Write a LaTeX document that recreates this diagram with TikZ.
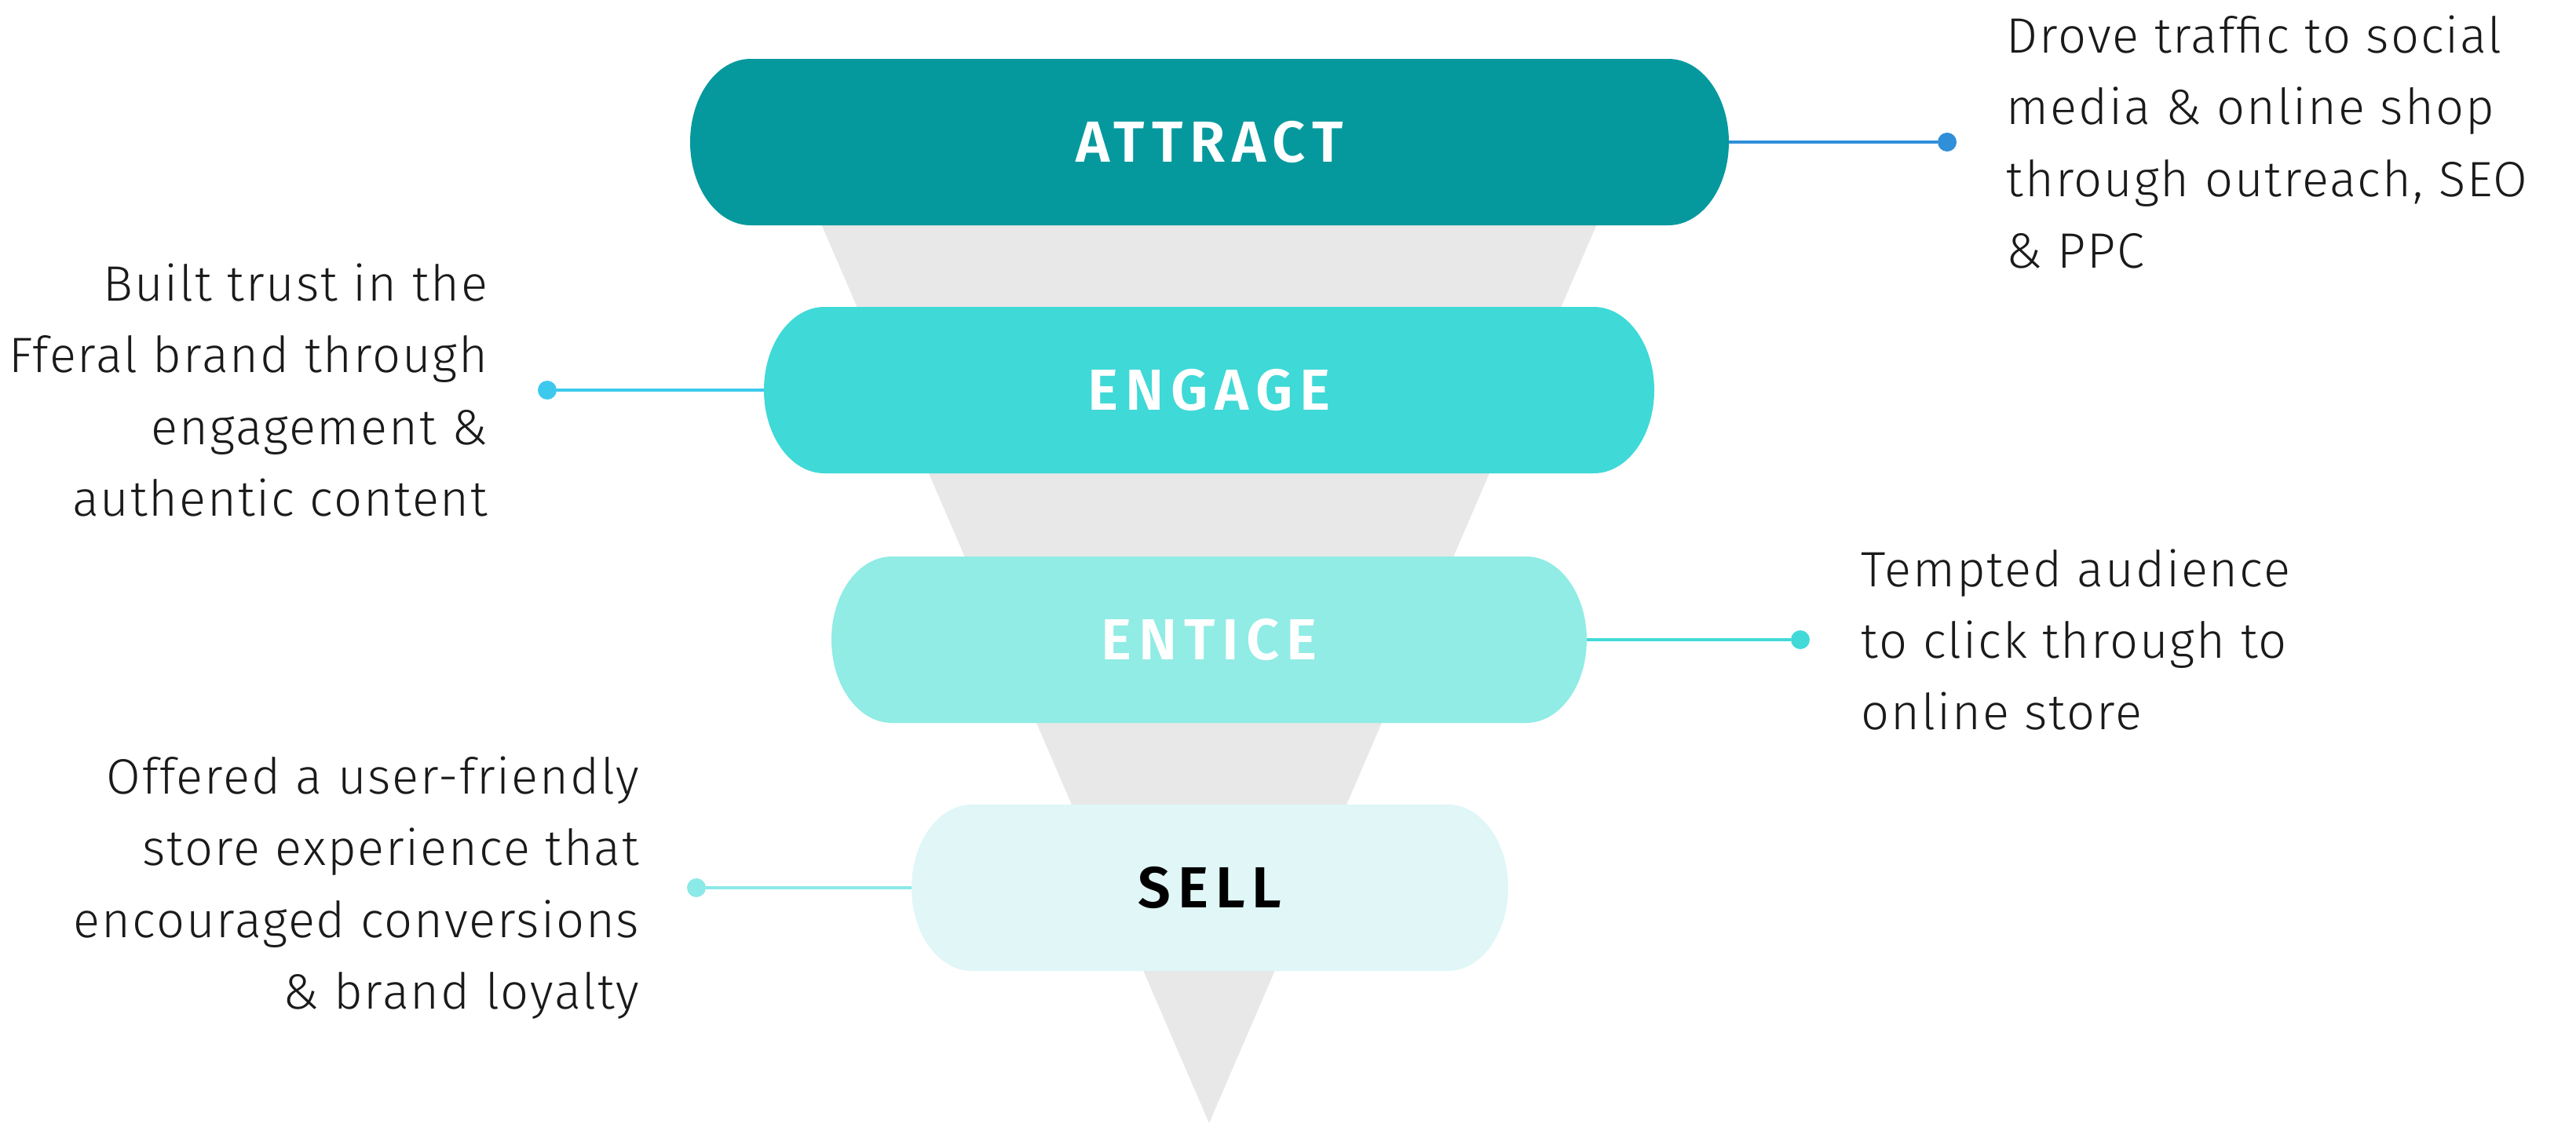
\documentclass[tikz,border=0pt]{standalone}
\usepackage{fontspec}
\setmainfont{Fira Sans}[UprightFont=* Light, BoldFont=* SemiBold]
\usetikzlibrary{positioning}

\definecolor{attractcol}{HTML}{05999E}
\definecolor{engagecol}{HTML}{3FD9D7}
\definecolor{enticecol}{HTML}{90ECE4}
\definecolor{sellcol}{HTML}{E0F6F7}
\definecolor{funnelcol}{HTML}{E8E8E8}
\definecolor{linkacol}{HTML}{2F8FD8}
\definecolor{linkbcol}{HTML}{3DC9EE}
\definecolor{linkccol}{HTML}{42DAD8}
\definecolor{linkdcol}{HTML}{8BE9E7}
\definecolor{notecol}{HTML}{1A1A1A}

\tikzset{
	pill/.style={minimum height=2.12cm, inner sep=0pt, outer sep=0pt, text=white,
		font=\fontsize{21}{25}\selectfont\bfseries\addfontfeatures{LetterSpace=12},
		path picture={
			\fill[#1] ([xshift=0.77cm]path picture bounding box.north west)
				-- ([xshift=-0.77cm]path picture bounding box.north east)
				arc[start angle=90, end angle=-90, x radius=0.77cm, y radius=1.06cm]
				-- ([xshift=0.77cm]path picture bounding box.south west)
				arc[start angle=270, end angle=90, x radius=0.77cm, y radius=1.06cm]
				-- cycle;}},
	dot/.style={circle, fill=#1, minimum size=0.24cm, inner sep=0pt, outer sep=0pt},
	link/.style={line width=1.4pt, draw=#1},
	note/.style={font=\fontsize{18}{26}\selectfont\addfontfeatures{LetterSpace=3}, text=notecol, inner sep=0pt}
}

\begin{document}
\begin{tikzpicture}[line cap=butt]
	\useasboundingbox (0, 0) rectangle (32.81, -14.31);

	% funnel
	\fill[funnelcol] (10.01, -1.81) -- (20.79, -1.81) -- (15.40, -14.31) -- cycle;

	% stages
	\node[pill=attractcol, minimum width=13.23cm] (attract) at (15.405, -1.81) {ATTRACT};
	\node[pill=engagecol, minimum width=11.34cm] (engage) at (15.40, -4.97) {ENGAGE};
	\node[pill=enticecol, minimum width=9.62cm] (entice) at (15.40, -8.15) {ENTICE};
	\node[pill=sellcol, minimum width=7.60cm, text=black] (sell) at (15.41, -11.31) {SELL};

	% dots
	\node[dot=linkacol] (dota) at (24.80, -1.81) {};
	\node[dot=linkbcol] (dotb) at (6.97, -4.97) {};
	\node[dot=linkccol] (dotc) at (22.93, -8.15) {};
	\node[dot=linkdcol] (dotd) at (8.87, -11.31) {};

	\draw[link=linkacol] (attract.east) -- (dota);
	\draw[link=linkbcol] (engage.west) -- (dotb);
	\draw[link=linkccol] (entice.east) -- (dotc);
	\draw[link=linkdcol] (sell.west) -- (dotd);

	% notes
	\node[note, align=left, right=0.63cm of dota] (notea) {Drove traffic to social\\media \& online shop\\through outreach, SEO\\\& PPC};
	\node[note, align=right, left=0.63cm of dotb] (noteb) {Built trust in the\\Fferal brand through\\engagement \&\\authentic content};
	\node[note, align=left, right=0.65cm of dotc] (notec) {Tempted audience\\to click through to\\online store};
	\node[note, align=right, left=0.60cm of dotd] (noted) {Offered a user-friendly\\store experience that\\encouraged conversions\\\& brand loyalty};
\end{tikzpicture}
\end{document}
